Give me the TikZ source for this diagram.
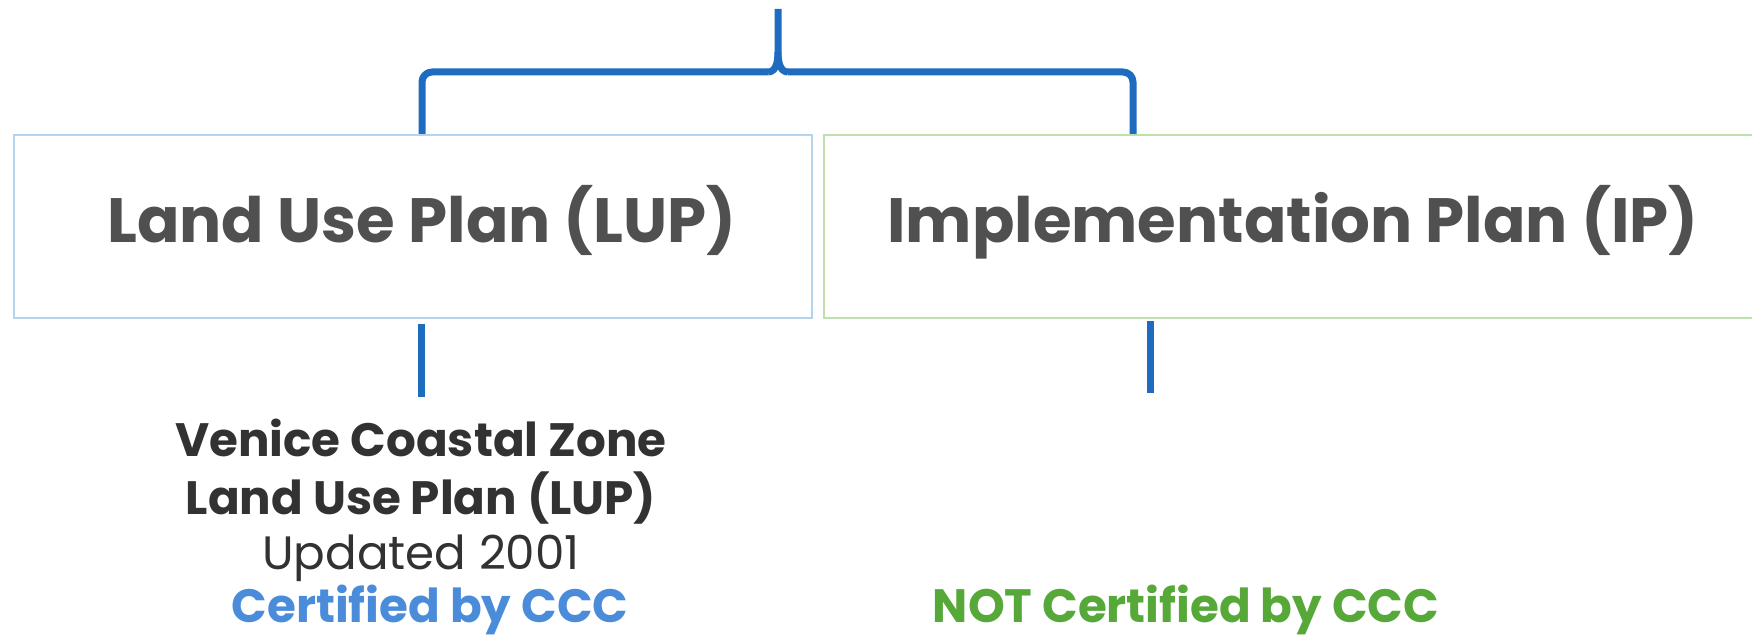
\documentclass[tikz,border=0pt]{standalone}
\usepackage{fontspec}
\setmainfont{Poppins}
\definecolor{brblue}{RGB}{30,108,192}
\definecolor{lupedge}{RGB}{180,212,238}
\definecolor{ipedge}{RGB}{190,224,170}
\definecolor{maingray}{RGB}{80,80,80}
\definecolor{darktxt}{RGB}{50,50,50}
\definecolor{certblue}{RGB}{74,140,218}
\definecolor{certgreen}{RGB}{86,168,56}
\tikzset{
  planbox/.style={draw, line width=1pt, minimum height=91.5pt, inner sep=0pt},
  titletxt/.style={anchor=base, inner sep=0pt, text=maingray, font=\bfseries\fontsize{31.3}{36}\selectfont},
  brline/.style={draw=brblue, line width=3.5pt, line join=round},
  lowtxt/.style={anchor=base, inner sep=0pt, font=\fontsize{23.4}{28}\selectfont, text=darktxt},
  lowbold/.style={lowtxt, font=\bfseries\fontsize{23.4}{28}\selectfont},
}
\begin{document}
\begin{tikzpicture}[x=0.5pt,y=-0.5pt]
\useasboundingbox (0,0) rectangle (1752,636);
% boxes
\node[planbox, draw=lupedge, minimum width=399pt, anchor=north west] (lup) at (13,134) {};
\node[planbox, draw=ipedge, minimum width=471pt, anchor=north west] (ip) at (823,134) {};
\node[titletxt] (luptxt) at (422,243) {Land Use Plan (LUP)};
\node[titletxt] (iptxt) at (1293,243) {Implementation Plan (IP)};
% brace
\coordinate (brL) at (422,72);
\coordinate (brR) at (1133,72);
\coordinate (tip) at (778,9);
\draw[brline, rounded corners=5pt] (lup.north -| brL) -- (brL) -- (768,72);
\draw[brline] (768,72) .. controls (775,72) and (778,64) .. (778,52) -- (tip);
\draw[brline] (778,52) .. controls (778,64) and (781,72) .. (788,72);
\draw[brline, rounded corners=5pt] (788,72) -- (brR) -- (ip.north -| brR);
% lower lines
\coordinate (lupend) at (421,397);
\coordinate (ipend) at (1150,393);
\draw[brline, line join=miter] (lupend |- 0,324) -- (lupend);
\draw[brline, line join=miter] (ipend |- 0,321) -- (ipend);
% lower text
\node[lowbold] (v1) at (421,457) {Venice Coastal Zone};
\node[lowbold] (v2) at (421,514) {Land Use Plan (LUP)};
\node[lowtxt] (v3) at (421,569) {Updated 2001};
\node[lowbold, text=certblue] (v4) at (430,622) {Certified by CCC};
\node[lowbold, text=certgreen] (n1) at (1186,622) {NOT Certified by CCC};
\end{tikzpicture}
\end{document}
